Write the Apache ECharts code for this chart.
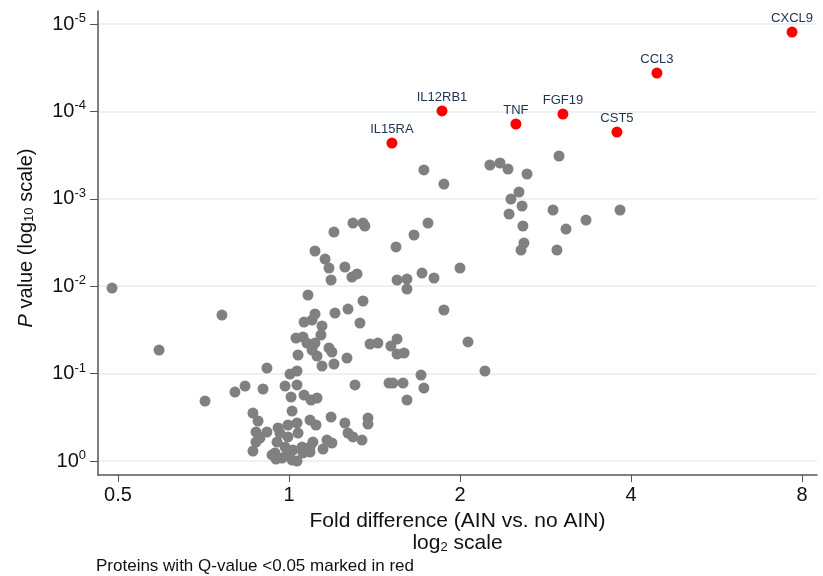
<!DOCTYPE html>
<html>
<head>
<meta charset="utf-8">
<script src="https://cdn.jsdelivr.net/npm/echarts@6/dist/echarts.min.js"></script>
<style>
  html, body { margin: 0; padding: 0; background: #fff; }
  #chart { width: 823px; height: 576px; }
</style>
</head>
<body>
<div id="chart"></div>
<script>
// each protein: log2 fold difference (AIN vs. no AIN) and -log10 P value
var grayLog2Fold = [
  -1.035, -0.760, -0.392, -0.491, -0.316, -0.257, -0.152, -0.129, -0.023, -0.211,
  -0.181, -0.193, -0.129, -0.193, -0.211, -0.099, 0.012, 0.018, 0.006, 0.047,
  0.047, 0.053, 0.041, 0.082, 0.088, 0.135, 0.111, 0.152, 0.211, 0.234,
  0.246, 0.327, 0.368, 0.398, 0.263, 0.374, 0.433, 0.444, 0.433, 0.345,
  0.269, 0.152, 0.193, 0.415, 0.187, 0.105, 0.152, 0.135, 0.234, 0.251,
  0.164, 0.339, 0.193, 0.263, 0.474, 0.520, 0.596, 0.632, 0.632, 0.673,
  0.772, 0.386, 0.585, 0.608, 0.667, 0.789, 0.690, 0.626, 0.731, 0.813,
  0.632, 0.690, 0.690, 0.778, 0.848, 1.000, 0.906, 1.047, 1.146, 0.789,
  0.906, 1.175, 1.234, 1.281, 1.392, 1.579, 1.345, 1.298, 1.363, 1.287,
  1.368, 1.544, 1.737, 1.936, 1.620, 1.374, 1.357, 1.567, 0.088, 0.129,
  0.164, 0.123, 0.158, 0.246, 0.327, 0.345, 0.374, 0.427, 0.462, 0.462,
  0.140, 0.251, 0.199, 0.123, 0.082, -0.006, 0.047, -0.053, -0.006, 0.053,
  -0.070, -0.023, 0.023, 0.076, -0.082, -0.076, -0.041, 0.018, -0.012, 0.123,
  0.222, -0.064, -0.170, 0.047
];
var grayNegLog10P = [
  1.979, 1.270, 1.670, 0.686, 0.789, 0.858, 0.824, 1.064, 0.858, 0.549,
  0.458, 0.332, 0.332, 0.217, 0.114, 0.069, 0.732, 0.572, 0.995, 1.030,
  0.870, 1.213, 1.407, 1.419, 1.590, 1.613, 1.899, 2.403, 2.311, 2.208,
  2.071, 2.220, 2.105, 2.140, 2.620, 2.723, 2.723, 2.689, 1.831, 1.739,
  1.693, 1.682, 1.545, 1.579, 1.442, 1.350, 1.350, 1.270, 1.293, 1.247,
  1.201, 1.178, 1.087, 1.110, 1.339, 1.350, 1.316, 1.396, 1.224, 1.236,
  0.984, 0.870, 0.892, 0.892, 0.892, 0.835, 0.698, 2.449, 2.586, 2.723,
  2.071, 2.082, 1.968, 2.151, 2.094, 2.208, 1.728, 1.362, 1.030, 3.330,
  3.169, 3.387, 3.410, 3.341, 3.284, 3.490, 3.078, 2.998, 2.918, 2.826,
  2.689, 2.872, 2.757, 2.872, 2.654, 2.494, 2.414, 2.414, 0.755, 0.698,
  0.721, 0.469, 0.412, 0.503, 0.435, 0.320, 0.275, 0.240, 0.492, 0.423,
  0.217, 0.206, 0.137, 0.103, 0.092, 0.412, 0.435, 0.320, 0.275, 0.320,
  0.217, 0.160, 0.126, 0.160, 0.092, 0.023, 0.034, 0.011, 0.069, 0.160,
  0.240, 0.378, 0.263, 0.000
];

// proteins with Q-value < 0.05
var redNames = ['IL15RA', 'IL12RB1', 'TNF', 'FGF19', 'CST5', 'CCL3', 'CXCL9'];
var redLog2Fold = [0.602, 0.895, 1.327, 1.602, 1.918, 2.152, 2.942];
var redNegLog10P = [3.638, 4.005, 3.856, 3.970, 3.764, 4.439, 4.908];

// tick positions (log2 fold, -log10 P)
var xTicks = [-1, 0, 1, 2, 3];
var yTicks = [0, 1, 2, 3, 4, 5];

var font = 'Liberation Sans, Arial, Helvetica, sans-serif';

var grayData = grayLog2Fold.map(function (x, i) { return [x, grayNegLog10P[i]]; });
var redData = redNames.map(function (n, i) {
  return { name: n, value: [redLog2Fold[i], redNegLog10P[i]] };
});

var myChart = echarts.init(document.getElementById('chart'));
var option = {
  backgroundColor: '#fff',
  animation: false,
  title: {
    text: 'Proteins with Q-value <0.05 marked in red',
    left: 96,
    top: 558,
    padding: 0,
    textStyle: { fontFamily: font, fontSize: 17, fontWeight: 'normal', color: '#111' }
  },
  grid: { left: 98, right: 6, top: 11, bottom: 101 },
  xAxis: {
    type: 'value',
    min: -1.117,
    max: 3.088,
    name: 'Fold difference (AIN vs. no AIN)\nlog{sub|2} scale',
    nameLocation: 'middle',
    nameGap: 34,
    nameTextStyle: {
      fontFamily: font, fontSize: 21, color: '#111', lineHeight: 22,
      rich: { sub: { fontFamily: font, fontSize: 13, verticalAlign: 'bottom', lineHeight: 15, color: '#111' } }
    },
    axisLine: { onZero: false, lineStyle: { color: '#555', width: 1.5 } },
    axisTick: { customValues: xTicks, length: 7, lineStyle: { color: '#555' } },
    axisLabel: {
      customValues: xTicks,
      margin: 10,
      fontFamily: font, fontSize: 20, color: '#111',
      formatter: function (v) { return String(Math.pow(2, v)); }
    },
    splitLine: { show: false }
  },
  yAxis: {
    type: 'value',
    min: -0.160,
    max: 5.149,
    name: '{i|P} value (log{sub|10} scale)',
    nameLocation: 'middle',
    nameGap: 62,
    nameTextStyle: {
      fontFamily: font, fontSize: 20, color: '#111',
      padding: [0, 0, 0, 10],
      rich: {
        i: { fontFamily: font, fontSize: 20, fontStyle: 'italic', color: '#111' },
        sub: { fontFamily: font, fontSize: 13, verticalAlign: 'bottom', lineHeight: 15, color: '#111' }
      }
    },
    axisLine: { show: true, onZero: false, lineStyle: { color: '#555', width: 1.5 } },
    axisTick: { show: true, customValues: yTicks, length: 8, lineStyle: { color: '#555' } },
    axisLabel: {
      customValues: yTicks,
      margin: 12,
      formatter: function (v) {
        return '{b|10}{s|' + (v === 0 ? '0' : '-' + v) + '}';
      },
      rich: {
        b: { fontFamily: font, fontSize: 20, color: '#111', lineHeight: 24 },
        s: { fontFamily: font, fontSize: 13, color: '#111', verticalAlign: 'top', lineHeight: 13 }
      }
    },
    splitLine: { show: true, lineStyle: { color: '#e6eef0', width: 1.5 } }
  },
  series: [
    {
      type: 'scatter',
      data: grayData,
      symbolSize: 11,
      itemStyle: { color: '#808080', opacity: 1 },
      z: 2
    },
    {
      type: 'scatter',
      data: redData,
      symbolSize: 11,
      itemStyle: { color: '#ff0000', opacity: 1 },
      label: {
        show: true,
        position: 'top',
        distance: 2,
        formatter: '{b}',
        fontFamily: font,
        fontSize: 13,
        color: '#243352'
      },
      z: 3
    }
  ]
};
myChart.setOption(option);
</script>
</body>
</html>
